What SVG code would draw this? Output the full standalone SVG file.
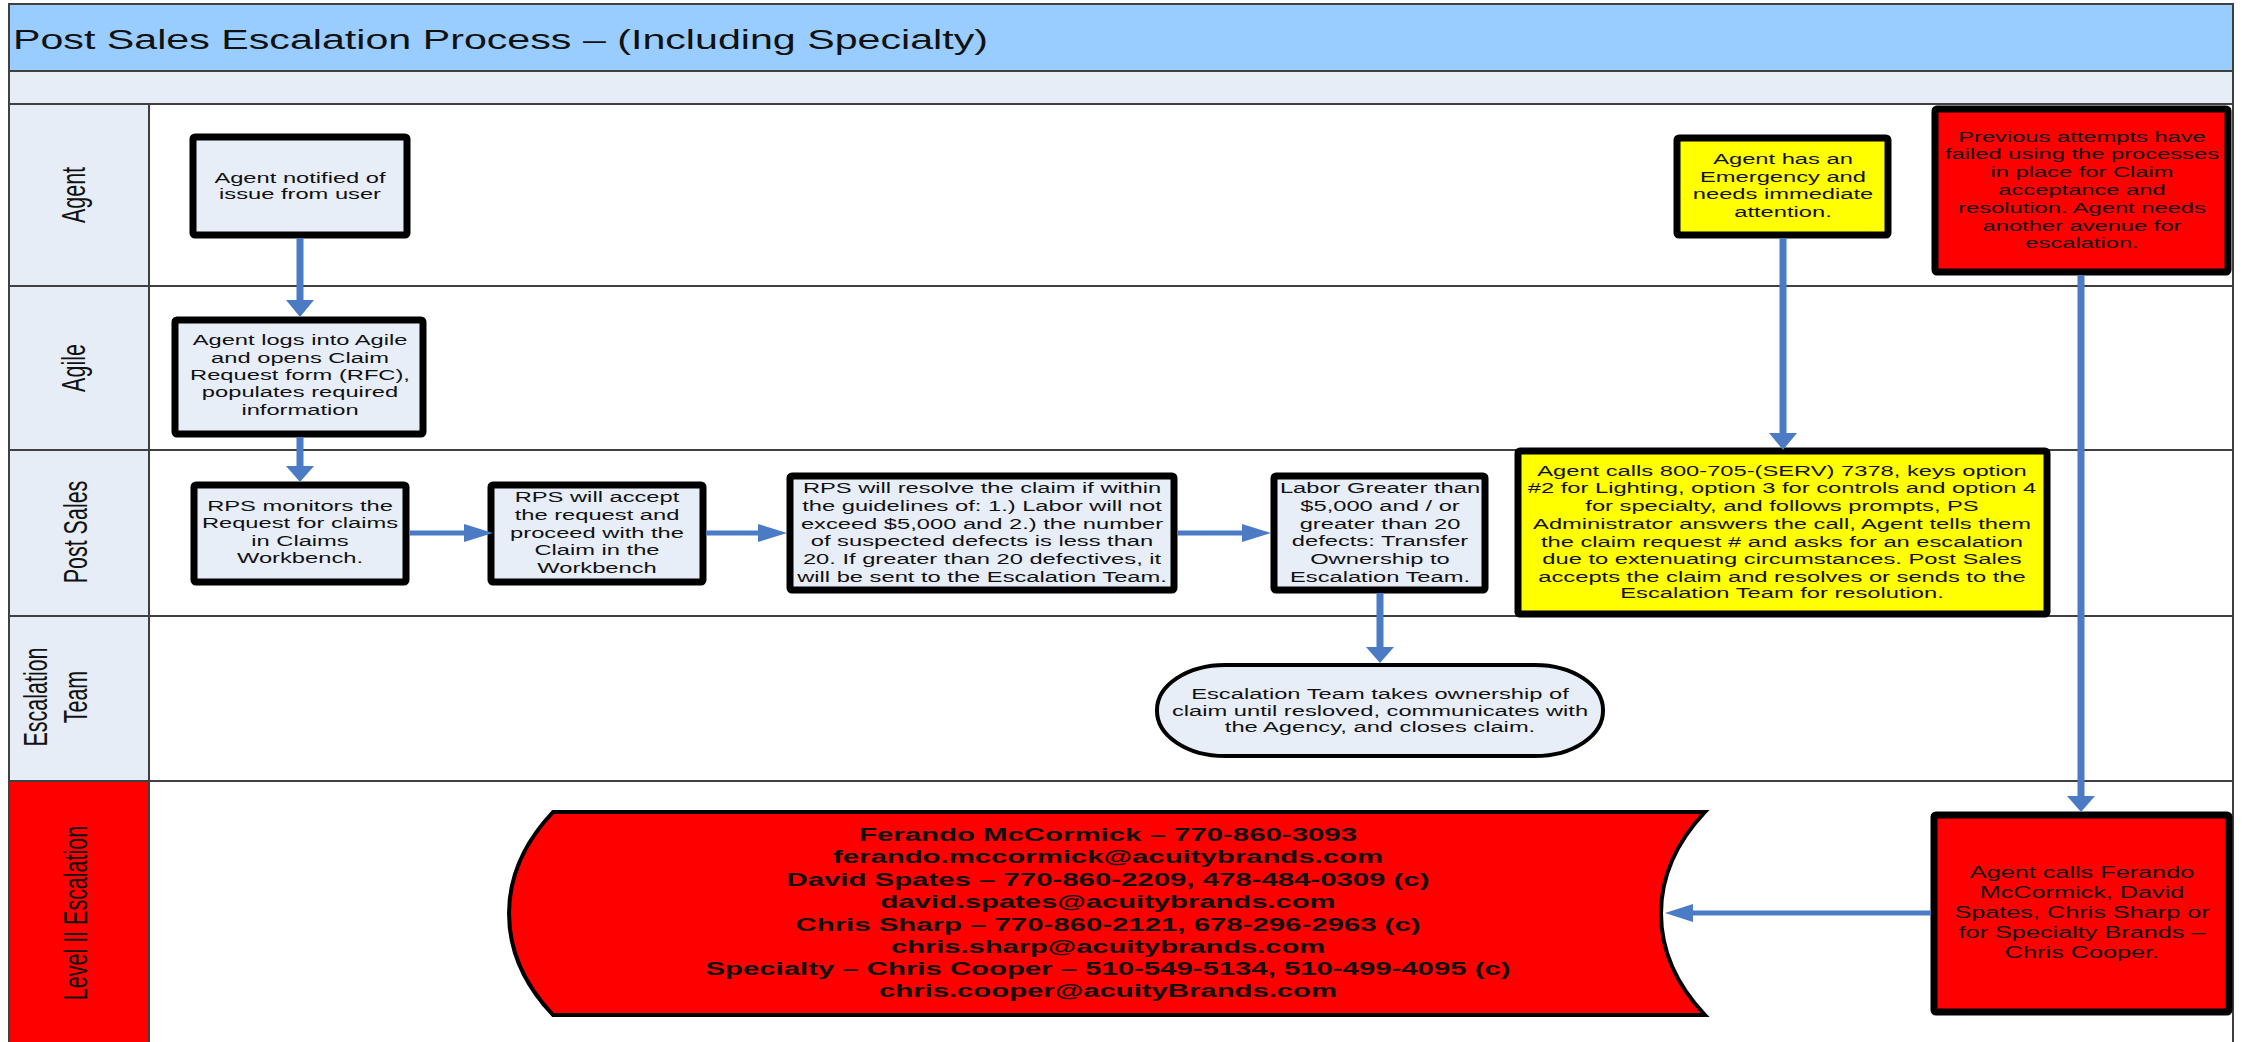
<svg xmlns="http://www.w3.org/2000/svg" width="2247" height="1042" viewBox="0 0 2247 1042">
<style>
text{font-family:"Liberation Sans",Arial,sans-serif;fill:#111}
.lane{fill:none;stroke:#404040;stroke-width:2}
.hdr{fill:#E6EDF7}
.box{fill:#E8EEF8;stroke:#000;stroke-width:7}
.ybox{fill:#FFFF00;stroke:#000;stroke-width:7}
.rbox{fill:#FF0000;stroke:#000;stroke-width:7}
.bt{font-size:15.5px;text-anchor:middle}
.lbl{font-size:21.5px;text-anchor:middle}
.ct{font-size:18px;font-weight:bold;text-anchor:middle}
.cl{stroke:#4A7BC4;fill:none}
.ah{fill:#4A7BC4}
</style>
<rect x="0" y="0" width="2247" height="1042" fill="#fff"/>
<g id="swimlanes">
<rect x="9" y="4" width="2224" height="67" fill="#99CCFF" stroke="#404040" stroke-width="2"/>
<rect x="9" y="71" width="2224" height="33" class="hdr" stroke="#404040" stroke-width="2"/>
<rect x="9" y="104" width="140" height="677" class="hdr"/>
<rect x="9" y="781" width="140" height="270" fill="#FF0000"/>
<path class="lane" d="M9,104H2233M9,286H2233M9,450H2233M9,616H2233M9,781H2233M9,104V1050M149,104V1050M2233,104V1050"/>
<text x="13" y="49" style="font-size:27px" textLength="975" lengthAdjust="spacingAndGlyphs">Post Sales Escalation Process – (Including Specialty)</text>
<text class="lbl" transform="translate(85,195) scale(1.53,1) rotate(-90)">Agent</text>
<text class="lbl" transform="translate(85,368) scale(1.53,1) rotate(-90)">Agile</text>
<text class="lbl" transform="translate(87,532) scale(1.53,1) rotate(-90)">Post Sales</text>
<text class="lbl" transform="translate(47,697) scale(1.53,1) rotate(-90)">Escalation</text>
<text class="lbl" transform="translate(87,697) scale(1.53,1) rotate(-90)">Team</text>
<text class="lbl" transform="translate(87,913) scale(1.53,1) rotate(-90)">Level II Escalation</text>
</g>
<g id="n-agent-notified">
<rect class="box" x="193" y="137" width="214" height="98" rx="2"/>
<g transform="translate(300,0) scale(1.53,1)"><text class="bt" x="0" y="183">Agent notified of</text><text class="bt" x="0" y="199">issue from user</text></g>
</g>
<g id="n-agile">
<rect class="box" x="175" y="320" width="248" height="114" rx="2"/>
<g transform="translate(300,0) scale(1.53,1)"><text class="bt" x="0" y="345">Agent logs into Agile</text><text class="bt" x="0" y="363">and opens Claim</text><text class="bt" x="0" y="380">Request form (RFC),</text><text class="bt" x="0" y="397">populates required</text><text class="bt" x="0" y="415">information</text></g>
</g>
<g id="n-rps-monitors">
<rect class="box" x="194" y="485" width="212" height="97" rx="2"/>
<g transform="translate(300,0) scale(1.53,1)"><text class="bt" x="0" y="511">RPS monitors the</text><text class="bt" x="0" y="528">Request for claims</text><text class="bt" x="0" y="546">in Claims</text><text class="bt" x="0" y="563">Workbench.</text></g>
</g>
<g id="n-rps-accept">
<rect class="box" x="491" y="485" width="212" height="97" rx="2"/>
<g transform="translate(597,0) scale(1.53,1)"><text class="bt" x="0" y="502">RPS will accept</text><text class="bt" x="0" y="520">the request and</text><text class="bt" x="0" y="538">proceed with the</text><text class="bt" x="0" y="555">Claim in the</text><text class="bt" x="0" y="573">Workbench</text></g>
</g>
<g id="n-rps-resolve">
<rect class="box" x="790" y="476" width="384" height="114" rx="2"/>
<g transform="translate(982,0) scale(1.53,1)"><text class="bt" x="0" y="493">RPS will resolve the claim if within</text><text class="bt" x="0" y="511">the guidelines of: 1.) Labor will not</text><text class="bt" x="0" y="529">exceed $5,000 and 2.) the number</text><text class="bt" x="0" y="546">of suspected defects is less than</text><text class="bt" x="0" y="564">20. If greater than 20 defectives, it</text><text class="bt" x="0" y="582">will be sent to the Escalation Team.</text></g>
</g>
<g id="n-labor">
<rect class="box" x="1274" y="476" width="211" height="114" rx="2"/>
<g transform="translate(1380,0) scale(1.53,1)"><text class="bt" x="0" y="493">Labor Greater than</text><text class="bt" x="0" y="511">$5,000 and / or</text><text class="bt" x="0" y="529">greater than 20</text><text class="bt" x="0" y="546">defects: Transfer</text><text class="bt" x="0" y="564">Ownership to</text><text class="bt" x="0" y="582">Escalation Team.</text></g>
</g>
<g id="n-escalation-team">
<rect x="1157" y="665" width="446" height="91" rx="68" ry="45" fill="#E8EEF8" stroke="#000" stroke-width="4"/>
<g transform="translate(1380,0) scale(1.53,1)"><text class="bt" x="0" y="699">Escalation Team takes ownership of</text><text class="bt" x="0" y="716">claim until resloved, communicates with</text><text class="bt" x="0" y="732">the Agency, and closes claim.</text></g>
</g>
<g id="n-emergency">
<rect class="ybox" x="1677" y="138" width="211" height="97" rx="2"/>
<g transform="translate(1783,0) scale(1.53,1)"><text class="bt" x="0" y="164">Agent has an</text><text class="bt" x="0" y="182">Emergency and</text><text class="bt" x="0" y="199">needs immediate</text><text class="bt" x="0" y="217">attention.</text></g>
</g>
<g id="n-agent-calls-800">
<rect class="ybox" x="1518" y="451" width="529" height="163" rx="2"/>
<g transform="translate(1782,0) scale(1.53,1)"><text class="bt" x="0" y="476">Agent calls 800-705-(SERV) 7378, keys option</text><text class="bt" x="0" y="493">#2 for Lighting, option 3 for controls and option 4</text><text class="bt" x="0" y="511">for specialty, and follows prompts, PS</text><text class="bt" x="0" y="529">Administrator answers the call, Agent tells them</text><text class="bt" x="0" y="547">the claim request # and asks for an escalation</text><text class="bt" x="0" y="564">due to extenuating circumstances. Post Sales</text><text class="bt" x="0" y="582">accepts the claim and resolves or sends to the</text><text class="bt" x="0" y="598">Escalation Team for resolution.</text></g>
</g>
<g id="n-previous-attempts">
<rect class="rbox" x="1935" y="109" width="293" height="163" rx="2"/>
<g transform="translate(2082,0) scale(1.53,1)"><text class="bt" x="0" y="142">Previous attempts have</text><text class="bt" x="0" y="159">failed using the processes</text><text class="bt" x="0" y="177">in place for Claim</text><text class="bt" x="0" y="195">acceptance and</text><text class="bt" x="0" y="213">resolution. Agent needs</text><text class="bt" x="0" y="231">another avenue for</text><text class="bt" x="0" y="248">escalation.</text></g>
</g>
<g id="n-agent-calls-ferando">
<rect class="rbox" x="1934" y="815" width="295" height="197" rx="2"/>
<g transform="translate(2082,0) scale(1.53,1)"><text class="bt" x="0" y="878" style="font-size:16.5px">Agent calls Ferando</text><text class="bt" x="0" y="898" style="font-size:16.5px">McCormick, David</text><text class="bt" x="0" y="918" style="font-size:16.5px">Spates, Chris Sharp or</text><text class="bt" x="0" y="938" style="font-size:16.5px">for Specialty Brands –</text><text class="bt" x="0" y="958" style="font-size:16.5px">Chris Cooper.</text></g>
</g>
<g id="n-contacts">
<path d="M553,812H1705A296,193.5 0 0 0 1705,1015H553A296,193.5 0 0 1 553,812Z" fill="#FF0000" stroke="#000" stroke-width="4"/>
<text class="ct" x="1108" y="841" textLength="498" lengthAdjust="spacingAndGlyphs">Ferando McCormick – 770-860-3093</text>
<text class="ct" x="1108" y="863" textLength="550" lengthAdjust="spacingAndGlyphs">ferando.mccormick@acuitybrands.com</text>
<text class="ct" x="1108" y="886" textLength="643" lengthAdjust="spacingAndGlyphs">David Spates – 770-860-2209, 478-484-0309 (c)</text>
<text class="ct" x="1108" y="908" textLength="455" lengthAdjust="spacingAndGlyphs">david.spates@acuitybrands.com</text>
<text class="ct" x="1108" y="931" textLength="625" lengthAdjust="spacingAndGlyphs">Chris Sharp – 770-860-2121, 678-296-2963 (c)</text>
<text class="ct" x="1108" y="953" textLength="434" lengthAdjust="spacingAndGlyphs">chris.sharp@acuitybrands.com</text>
<text class="ct" x="1108" y="975" textLength="805" lengthAdjust="spacingAndGlyphs">Specialty – Chris Cooper – 510-549-5134, 510-499-4095 (c)</text>
<text class="ct" x="1108" y="997" textLength="458" lengthAdjust="spacingAndGlyphs">chris.cooper@acuityBrands.com</text>
</g>
<g id="connectors">
<path class="cl" stroke-width="7" d="M300,238V301M300,437V467M1380,593V648M1783,238V434M2081,275V797"/>
<path class="cl" stroke-width="5" d="M409,533H465M706,533H759M1177,533H1243M1931,913H1692"/>
<polygon class="ah" points="286,300 314,300 300,317"/>
<polygon class="ah" points="286,466 314,466 300,482"/>
<polygon class="ah" points="1366,647 1394,647 1380,663"/>
<polygon class="ah" points="1769,433 1797,433 1783,450"/>
<polygon class="ah" points="2067,796 2095,796 2081,812"/>
<polygon class="ah" points="464,524 464,542 493,533"/>
<polygon class="ah" points="758,524 758,542 787,533"/>
<polygon class="ah" points="1242,524 1242,542 1271,533"/>
<polygon class="ah" points="1693,904 1693,922 1665,913"/>
</g>
</svg>
